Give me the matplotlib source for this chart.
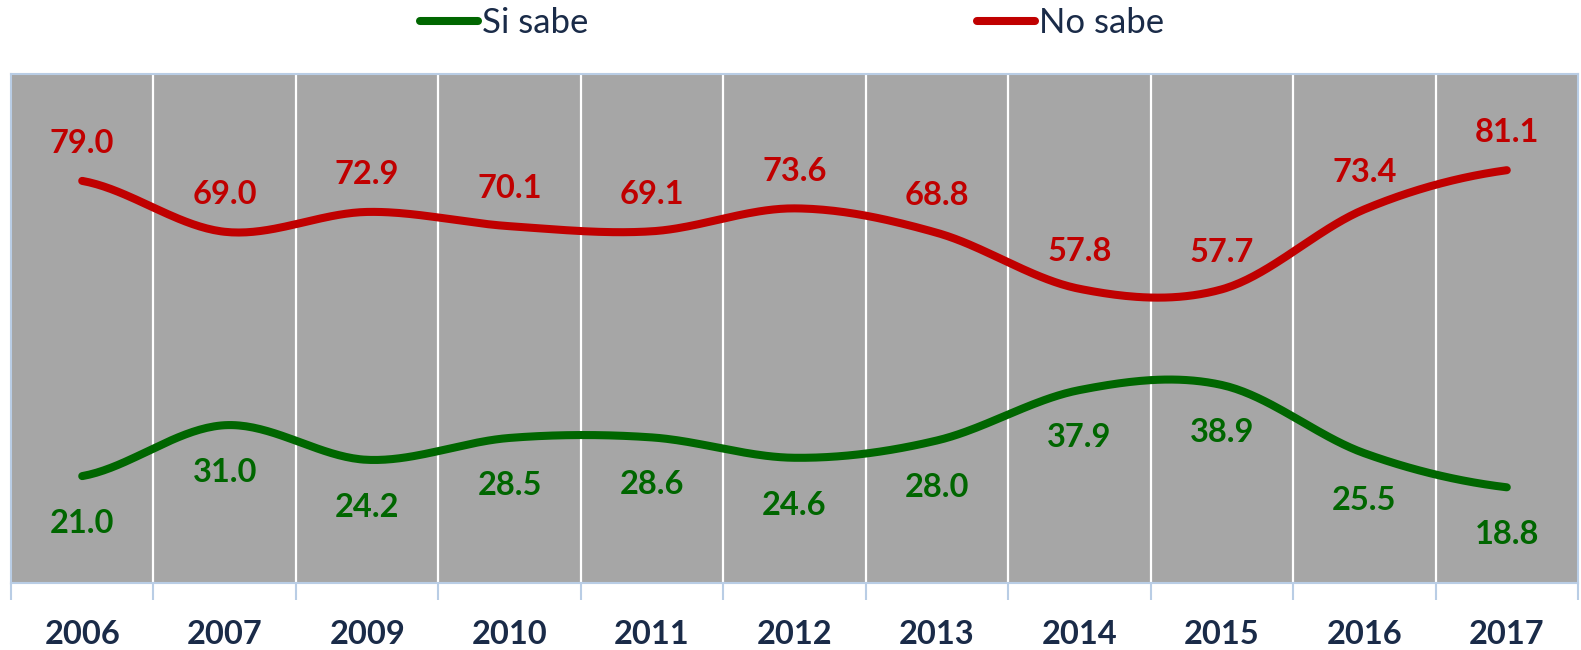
import matplotlib
matplotlib.use("Agg")
import matplotlib.pyplot as plt
import numpy as np

plt.rcParams["font.family"] = ["Lato", "DejaVu Sans"]

years = ["2006", "2007", "2009", "2010", "2011", "2012", "2013", "2014", "2015", "2016", "2017"]
si_sabe = [21.0, 31.0, 24.2, 28.5, 28.6, 24.6, 28.0, 37.9, 38.9, 25.5, 18.8]
no_sabe = [79.0, 69.0, 72.9, 70.1, 69.1, 73.6, 68.8, 57.8, 57.7, 73.4, 81.1]

GREEN = "#006600"
RED = "#C00000"
PANEL = "#A6A6A6"
BORDER = "#B9CDE5"
TEXT = "#1A2B48"


def smooth(values, steps=40):
    """Excel-like smoothed line (Catmull-Rom through every point)."""
    y = np.asarray(values, dtype=float)
    n = len(y)
    ext = np.concatenate([[y[0]], y, [y[-1]]])
    xs, ys = [], []
    for i in range(n - 1):
        p0, p1, p2, p3 = ext[i], ext[i + 1], ext[i + 2], ext[i + 3]
        m1 = (p2 - p0) / 2.0
        m2 = (p3 - p1) / 2.0
        t = np.linspace(0, 1, steps, endpoint=(i == n - 2))
        h00 = 2 * t**3 - 3 * t**2 + 1
        h10 = t**3 - 2 * t**2 + t
        h01 = -2 * t**3 + 3 * t**2
        h11 = t**3 - t**2
        xs.append(i + t)
        ys.append(h00 * p1 + h10 * m1 + h01 * p2 + h11 * m2)
    return np.concatenate(xs), np.concatenate(ys)


fig = plt.figure(figsize=(15.81, 6.5), dpi=100)
fig.patch.set_facecolor("white")
ax = fig.add_axes([11 / 1581, 67 / 650, 1567 / 1581, 509 / 650])
ax.set_facecolor(PANEL)

x = np.arange(len(years))
for vals, color, name in [(si_sabe, GREEN, "Si sabe"), (no_sabe, RED, "No sabe")]:
    sx, sy = smooth(vals)
    ax.plot(sx, sy, color=color, lw=5.8, solid_capstyle="round", label=name, zorder=3)

for xi, v in zip(x, no_sabe):
    ax.annotate(f"{v:.1f}", (xi, v), xytext=(0, 20), textcoords="offset points",
                ha="center", va="baseline", fontsize=23.5, fontweight="bold", color=RED)
for xi, v in zip(x, si_sabe):
    ax.annotate(f"{v:.1f}", (xi, v), xytext=(0, -41), textcoords="offset points",
                ha="center", va="baseline", fontsize=23.5, fontweight="bold", color=GREEN)

ax.set_xlim(-0.5, len(years) - 0.5)
ax.set_ylim(0, 100)
ax.set_yticks([])

ax.set_xticks(np.arange(-0.5, len(years), 1.0))
ax.set_xticklabels([])
ax.tick_params(axis="x", which="major", length=12, width=1.5, color=BORDER, direction="out")
ax.set_xticks(x, minor=True)
ax.set_xticklabels(years, minor=True, fontsize=23.5, fontweight="bold", color=TEXT)
ax.tick_params(axis="x", which="minor", length=0, pad=27)

for b in np.arange(0.5, len(years) - 1, 1.0):
    ax.axvline(b, color="white", lw=1.6, zorder=1)

for sp in ax.spines.values():
    sp.set_color(BORDER)
    sp.set_linewidth(1.5)

fig.legend(loc="center", bbox_to_anchor=(792 / 1581, 1 - 23 / 650), ncol=2, frameon=False,
           fontsize=25, handlelength=1.67, handletextpad=0.1, columnspacing=11.2,
           labelcolor=TEXT)

fig.savefig("out.png", dpi=100, facecolor="white")
